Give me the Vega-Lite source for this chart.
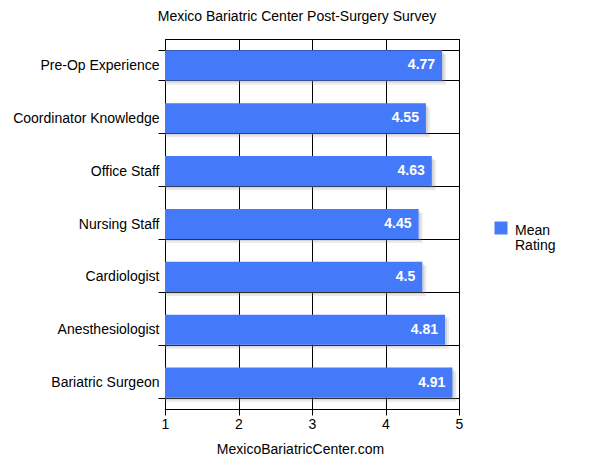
{
  "$schema": "https://vega.github.io/schema/vega-lite/v6.json",
  "width": 294,
  "height": 370,
  "autosize": {"type": "none"},
  "padding": {"left": 165, "top": 39, "right": 141, "bottom": 54},
  "title": {
    "text": "Mexico Bariatric Center Post-Surgery Survey",
    "fontSize": 14,
    "fontWeight": "normal",
    "font": "Liberation Sans",
    "color": "#000000",
    "anchor": "middle",
    "dx": -15,
    "dy": 19,
    "baseline": "alphabetic",
    "offset": 16
  },
  "data": {
    "values": [
      {"category": "Pre-Op Experience", "rating": 4.77, "series": "Mean Rating"},
      {"category": "Coordinator Knowledge", "rating": 4.55, "series": "Mean Rating"},
      {"category": "Office Staff", "rating": 4.63, "series": "Mean Rating"},
      {"category": "Nursing Staff", "rating": 4.45, "series": "Mean Rating"},
      {"category": "Cardiologist", "rating": 4.5, "series": "Mean Rating"},
      {"category": "Anesthesiologist", "rating": 4.81, "series": "Mean Rating"},
      {"category": "Bariatric Surgeon", "rating": 4.91, "series": "Mean Rating"}
    ]
  },
  "encoding": {
    "y": {
      "field": "category",
      "type": "nominal",
      "sort": null,
      "scale": {"paddingInner": 0.43, "paddingOuter": 0.215},
      "axis": {
        "title": null,
        "tickBand": "extent",
        "grid": true,
        "gridColor": "#000000",
        "gridOpacity": 1,
        "tickSize": 7,
        "tickColor": "#000000",
        "domainColor": "#000000",
        "labelPadding": -1,
        "labelFontSize": 14,
        "labelColor": "#000000",
        "labelFont": "Liberation Sans"
      }
    }
  },
  "layer": [
    {
      "mark": {"type": "bar", "color": "#888888", "opacity": 0.18, "xOffset": 4, "yOffset": 4},
      "encoding": {
        "x": {"field": "rating", "type": "quantitative", "scale": {"domain": [1, 5], "zero": false, "nice": false}},
        "x2": {"datum": 1}
      }
    },
    {
      "mark": {"type": "bar", "color": "#888888", "opacity": 0.22, "xOffset": 2, "yOffset": 2},
      "encoding": {
        "x": {"field": "rating", "type": "quantitative"},
        "x2": {"datum": 1}
      }
    },
    {
      "mark": {"type": "bar"},
      "encoding": {
        "x": {
          "field": "rating",
          "type": "quantitative",
          "axis": {
            "title": "MexicoBariatricCenter.com",
            "titleFontSize": 14,
            "titleFontWeight": "normal",
            "titleFont": "Liberation Sans",
            "titleColor": "#000000",
            "titleX": 135,
            "titleY": 44,
            "titleBaseline": "alphabetic",
            "titleAnchor": null,
            "titleAlign": "center",
            "values": [1, 1.5, 2, 2.5, 3, 3.5, 4, 4.5, 5],
            "labelExpr": "datum.value % 1 === 0 ? format(datum.value, 'd') : ''",
            "labelFontSize": 14,
            "labelColor": "#000000",
            "labelFont": "Liberation Sans",
            "labelPadding": 2,
            "labelFlush": false,
            "grid": true,
            "gridColor": {"condition": {"test": "datum.value % 1 === 0", "value": "#000000"}, "value": "#c4c4c4"},
            "gridOpacity": 1,
            "tickSize": 6,
            "tickColor": "#000000",
            "tickOpacity": {"condition": {"test": "datum.value % 1 === 0", "value": 1}, "value": 0},
            "domainColor": "#000000"
          }
        },
        "x2": {"datum": 1},
        "color": {
          "field": "series",
          "type": "nominal",
          "scale": {"range": ["#4479fa"]},
          "legend": {
            "title": null,
            "orient": "none",
            "legendX": 329,
            "legendY": 182,
            "symbolType": "square",
            "symbolSize": 169,
            "symbolStrokeWidth": 0,
            "symbolOpacity": 1,
            "labelExpr": "['Mean', 'Rating']",
            "labelFontSize": 14,
            "labelColor": "#000000",
            "labelFont": "Liberation Sans",
            "labelBaseline": "top",
            "labelOffset": 7,
            "padding": 0,
            "encode": {
              "labels": {"update": {"lineHeight": {"value": 15}, "dy": {"value": -4}}}
            }
          }
        }
      }
    },
    {
      "mark": {"type": "text", "align": "right", "baseline": "middle", "dx": -7, "color": "#ffffff", "fontWeight": "bold", "fontSize": 14, "font": "Liberation Sans"},
      "encoding": {
        "x": {"field": "rating", "type": "quantitative"},
        "text": {"field": "rating", "type": "quantitative"}
      }
    }
  ],
  "config": {
    "font": "Liberation Sans",
    "view": {"stroke": "#000000", "strokeWidth": 1},
    "background": "#ffffff"
  }
}
